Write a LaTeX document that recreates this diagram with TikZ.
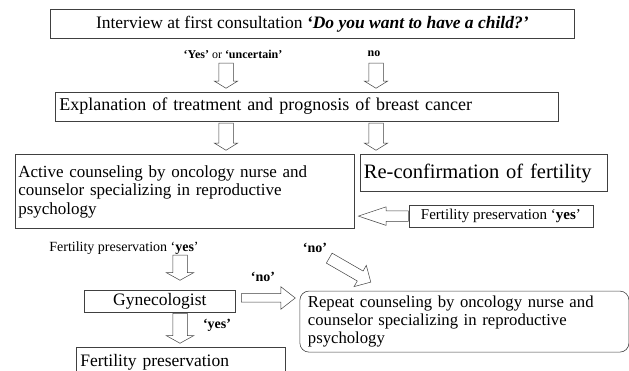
\documentclass[tikz,border=0pt]{standalone}
\usepackage{fontspec}
\setmainfont{Liberation Serif}
\usetikzlibrary{positioning,shapes,arrows}
\tikzstyle{BoxNode}=[rectangle, draw=black!75, line width=0.6pt, inner sep=0pt, font=\fontsize{17.5}{18.5}\selectfont]
\tikzstyle{LabelNode}=[inner sep=0pt, font=\fontsize{14}{16}\selectfont]
\tikzstyle{BlockArrow}=[single arrow, draw=black!75, fill=white, line width=0.5pt, inner xsep=0pt, anchor=tail]

\begin{document}
\begin{tikzpicture}

    \useasboundingbox (0,0) rectangle (629pt,-371pt);
    \clip (0,0) rectangle (629pt,-371pt);

    \node (Interview) [BoxNode, anchor=north west, minimum width=524pt, minimum height=29pt] at (50pt,-9pt)
    {Interview at first consultation \textbf{\textit{`Do you want to have a child?'}}};
    \node (Explain) [BoxNode, font=\fontsize{18}{19}\selectfont, minimum width=503pt, minimum height=29pt, text width=495pt, align=left, below right=53pt and 5pt of Interview.south west]
    {Explanation of treatment and prognosis of breast cancer};
    \node (Active) [BoxNode, font=\fontsize{17}{18.5}\selectfont, minimum width=339pt, minimum height=74pt, text width=333pt, align=left, below right=33pt and -40pt of Explain.south west]
    {Active counseling by oncology nurse and\\ counselor specializing in reproductive\\ psychology};
    \node (ReConfirm) [BoxNode, font=\fontsize{20.5}{22}\selectfont, minimum width=247pt, minimum height=37pt, text width=239pt, align=left, below right=0pt and 5pt of Active.north east]
    {Re-confirmation of fertility};
    \node (PresYesBox) [BoxNode, minimum width=184pt, minimum height=22pt, font=\fontsize{15}{16}\selectfont, below right=13pt and 49pt of ReConfirm.south west]
    {Fertility preservation `\textbf{yes}'};
    \node (Gyneco) [BoxNode, minimum width=151pt, minimum height=22pt, below right=61pt and 69pt of Active.south west]
    {Gynecologist};
    \node (Repeat) [BoxNode, font=\fontsize{16.7}{18}\selectfont, rounded corners=9pt, minimum width=329pt, minimum height=61pt, text width=313pt, align=left, below right=62pt and -55pt of Active.south east]
    {Repeat counseling by oncology nurse and\\ counselor specializing in reproductive\\ psychology};
    \node (FertPres) [BoxNode, minimum width=209pt, minimum height=30pt, text width=201pt, align=left, below right=35pt and -8pt of Gyneco.south west]
    {Fertility preservation};

    \node (YesUncertain) [LabelNode, font=\fontsize{12}{14}\selectfont] at (233pt,-54pt) {\textbf{`Yes'} or \textbf{`uncertain'}};
    \node (NoTop) [LabelNode, font=\fontsize{12}{14}\selectfont] at (374pt,-54pt) {\textbf{no}};
    \node (PresYesLabel) [LabelNode] at (124pt,-248pt) {Fertility preservation `\textbf{yes}'};
    \node (NoMid) [LabelNode] at (315pt,-248pt) {\textbf{`no'}};
    \node (NoGyneco) [LabelNode] at (263pt,-277pt) {\textbf{`no'}};
    \node (YesGyneco) [LabelNode] at (217pt,-325pt) {\textbf{`yes'}};

    \node (ArrowYes) [BlockArrow, rotate=-90, minimum height=25pt, inner ysep=7pt, single arrow head extend=4.5pt, single arrow tip angle=117] at (226pt,-63pt) {};
    \node (ArrowNo) [BlockArrow, rotate=-90, minimum height=25pt, inner ysep=7pt, single arrow head extend=4.5pt, single arrow tip angle=117] at (376pt,-63pt) {};
    \node (ArrowActive) [BlockArrow, rotate=-90, minimum height=27pt, inner ysep=7pt, single arrow head extend=4.5pt, single arrow tip angle=117] at (226pt,-123pt) {};
    \node (ArrowReConfirm) [BlockArrow, rotate=-90, minimum height=27pt, inner ysep=7pt, single arrow head extend=4.5pt, single arrow tip angle=117] at (376pt,-123pt) {};
    \node (ArrowBack) [BlockArrow, rotate=180, minimum height=50pt, inner ysep=5pt, single arrow head extend=4pt, single arrow tip angle=37] at (PresYesBox.west) {};
    \node (ArrowGyneco) [BlockArrow, rotate=-90, minimum height=25pt, inner ysep=7pt, single arrow head extend=6.5pt, single arrow tip angle=122] at (180pt,-255pt) {};
    \node (ArrowRepeat) [BlockArrow, minimum height=54pt, inner ysep=4pt, single arrow head extend=7pt, single arrow tip angle=76] at (241pt,-298pt) {};
    \node (ArrowDiag) [BlockArrow, rotate=-30, minimum height=48pt, inner ysep=5.5pt, single arrow head extend=6.5pt, single arrow tip angle=90] at (329pt,-258pt) {};
    \node (ArrowPres) [BlockArrow, rotate=-90, minimum height=30pt, inner ysep=7pt, single arrow head extend=6.5pt, single arrow tip angle=122] at (180pt,-313pt) {};

\end{tikzpicture}
\end{document}
